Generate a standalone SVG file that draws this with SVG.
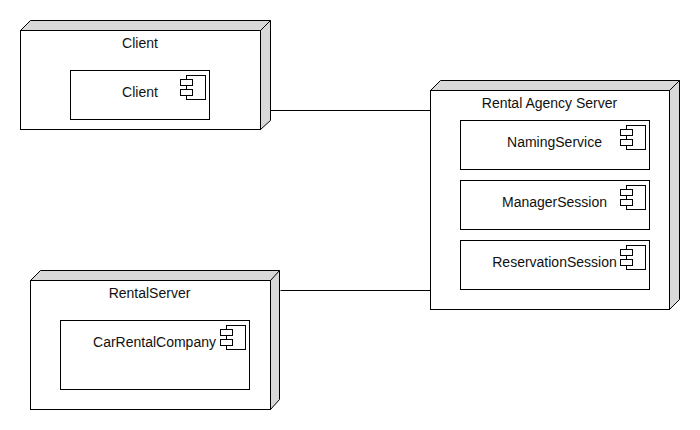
<svg xmlns="http://www.w3.org/2000/svg" width="700" height="430" viewBox="0 0 700 430">
<style>
text{font-family:"Liberation Sans",Arial,sans-serif;font-size:14px;fill:#111;text-anchor:middle}
.b{fill:#fff;stroke:#000;stroke-width:1}
.s{fill:#d9d9d9;stroke:#000;stroke-width:1}
.c{stroke:#000;stroke-width:1;fill:none}
</style>
<defs>
<g id="icon">
<rect class="b" x="6" y="0" width="19" height="24"/>
<rect class="b" x="0" y="4" width="12" height="6"/>
<rect class="b" x="0" y="14" width="12" height="6"/>
</g>
</defs>
<rect width="700" height="430" fill="#fff"/>
<g id="connectors">
<path class="c" d="M270.5 110.5H430.5"/>
<path class="c" d="M280.5 290.5H430.5"/>
</g>
<g id="node-client">
<path class="s" d="M20.5 30.5L30.5 20.5H270.5V120.5L260.5 129.5V30.5Z"/>
<path class="c" d="M260.5 30.5L270.5 20.5"/>
<rect class="b" x="20.5" y="30.5" width="240" height="99"/>
<text x="140" y="48">Client</text>
</g>
<g id="comp-client">
<rect class="b" x="70.5" y="70.5" width="139" height="49"/>
<text x="140" y="97">Client</text>
<use href="#icon" x="180.5" y="75.5"/>
</g>
<g id="node-rental-agency">
<path class="s" d="M430.5 90.5L440.5 80.5H679.5V299.5L669.5 309.5V90.5Z"/>
<path class="c" d="M669.5 90.5L679.5 80.5"/>
<rect class="b" x="430.5" y="90.5" width="239" height="219"/>
<text x="549.5" y="108">Rental Agency Server</text>
</g>
<g id="comp-naming">
<rect class="b" x="460.5" y="120.5" width="189" height="49"/>
<text x="554.5" y="147">NamingService</text>
<use href="#icon" x="620.5" y="125.5"/>
</g>
<g id="comp-manager">
<rect class="b" x="460.5" y="180.5" width="189" height="49"/>
<text x="554.5" y="207">ManagerSession</text>
<use href="#icon" x="620.5" y="185.5"/>
</g>
<g id="comp-reservation">
<rect class="b" x="460.5" y="240.5" width="189" height="49"/>
<text x="554.5" y="267">ReservationSession</text>
<use href="#icon" x="620.5" y="245.5"/>
</g>
<g id="node-rental-server">
<path class="s" d="M30.5 280.5L40.5 270.5H279.5V399.5L270.5 409.5V280.5Z"/>
<path class="c" d="M270.5 280.5L279.5 270.5"/>
<rect class="b" x="30.5" y="280.5" width="240" height="129"/>
<text x="149.5" y="298">RentalServer</text>
</g>
<g id="comp-company">
<rect class="b" x="60.5" y="320.5" width="189" height="69"/>
<text x="154.5" y="347">CarRentalCompany</text>
<use href="#icon" x="220.5" y="325.5"/>
</g>
</svg>
